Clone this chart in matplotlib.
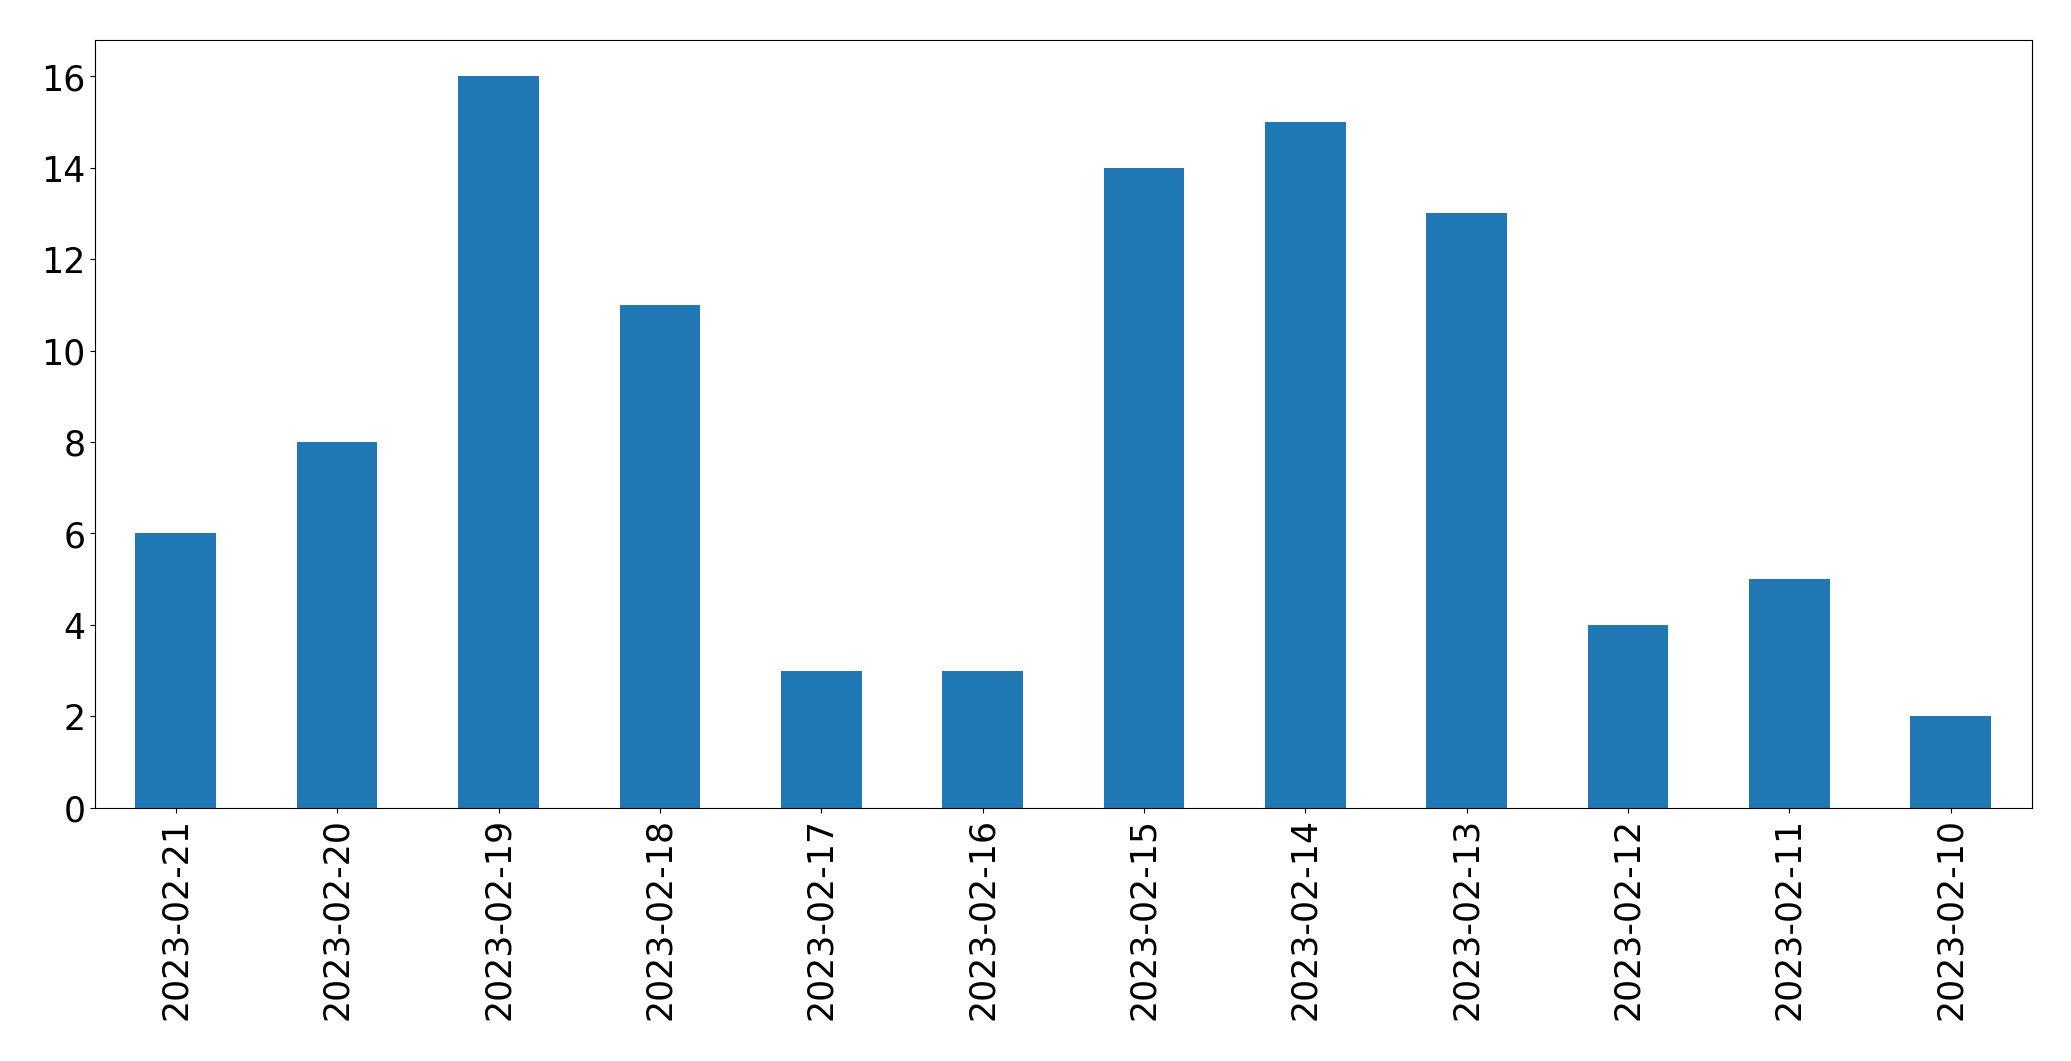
import matplotlib
matplotlib.use("Agg")
import matplotlib.pyplot as plt
import numpy as np

dates = ["2023-02-21", "2023-02-20", "2023-02-19", "2023-02-18", "2023-02-17", "2023-02-16",
         "2023-02-15", "2023-02-14", "2023-02-13", "2023-02-12", "2023-02-11", "2023-02-10"]
counts = [6, 8, 16, 11, 3, 3, 14, 15, 13, 4, 5, 2]

fig = plt.figure(figsize=(20.715, 10.615), dpi=100)
ax = fig.add_axes([0.0459, 0.2385, 0.9348, 0.7238])
x = np.arange(len(dates))
ax.bar(x, counts, width=0.5, color="#1f77b4")
ax.set_xlim(-0.5, len(dates) - 0.5)
ax.set_xticks(x)
ax.set_xticklabels(dates, rotation=90, fontsize=25)
ax.tick_params(axis="y", labelsize=25)
fig.savefig("out.png", dpi=100)
